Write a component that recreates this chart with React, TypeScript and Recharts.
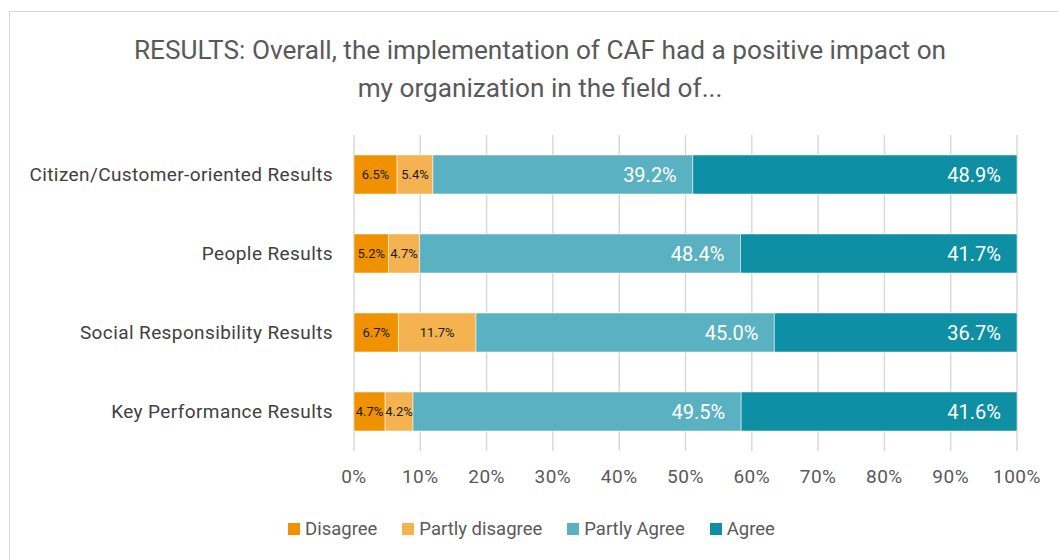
import React from "react";
import {
  BarChart, Bar, XAxis, YAxis, CartesianGrid, LabelList,
} from "recharts";

const categories = [
  "Citizen/Customer-oriented Results",
  "People Results",
  "Social Responsibility Results",
  "Key Performance Results",
];

const disagree        = [6.5, 5.2, 6.7, 4.7];
const partlyDisagree  = [5.4, 4.7, 11.7, 4.2];
const partlyAgree     = [39.2, 48.4, 45.0, 49.5];
const agree           = [48.9, 41.7, 36.7, 41.6];

const xTicks = [0, 10, 20, 30, 40, 50, 60, 70, 80, 90, 100];

const series = [
  { key: "disagree",       name: "Disagree",         color: "#F09200", small: true },
  { key: "partlyDisagree", name: "Partly disagree",  color: "#F4B350", small: true },
  { key: "partlyAgree",    name: "Partly Agree",     color: "#5AB1C2", small: false },
  { key: "agree",          name: "Agree",            color: "#0E8FA3", small: false },
];

const data = categories.map((c, i) => ({
  category:       c,
  disagree:       disagree[i],
  partlyDisagree: partlyDisagree[i],
  partlyAgree:    partlyAgree[i],
  agree:          agree[i],
}));

const FONT = "Roboto, 'Open Sans', sans-serif";
const pct = (v: any) => `${Number(v).toFixed(1)}%`;

export default function App() {
  return (
    <div style={{ position: "fixed", left: 0, top: 0, width: 1058, height: 560, background: "#fff", overflow: "hidden" }}>
      {/* chart border */}
      <div style={{ position: "absolute", left: 9, top: 11, width: 1100, height: 600, border: "1px solid #d9d9d9" }} />

      {/* Title */}
      <div style={{
        position: "absolute", left: 0, top: 31, width: 1080, textAlign: "center",
        fontFamily: FONT, fontSize: 26.2, lineHeight: "38px", color: "#595959",
      }}>
        RESULTS: Overall, the implementation of CAF had a positive impact on<br />
        my organization in the field of...
      </div>

      <div style={{ position: "absolute", left: 0, top: 0 }}>
        <BarChart
          width={1058}
          height={560}
          data={data}
          layout="vertical"
          margin={{ top: 135, right: 41, bottom: 69, left: 0 }}
          barSize={39}
        >
          <CartesianGrid horizontal={false} stroke="#d9d9d9" strokeWidth={1.5} />
          <XAxis
            type="number"
            domain={[0, 100]}
            ticks={xTicks}
            allowDataOverflow
            tickFormatter={(v) => `${v}%`}
            tick={{ fontSize: 19, fill: "#595959", fontFamily: FONT, letterSpacing: 0.5 }}
            axisLine={false}
            tickLine={false}
            tickMargin={13}
            height={40}
          />
          <YAxis
            type="category"
            dataKey="category"
            width={354}
            tick={{ fontSize: 19, fill: "#404040", fontFamily: FONT, letterSpacing: 0.4 }}
            axisLine={false}
            tickLine={false}
            tickMargin={15}
          />
          {series.map((s) => (
            <Bar
              key={s.key}
              dataKey={s.key}
              name={s.name}
              stackId="a"
              fill={s.color}
              stroke="#ffffff"
              strokeWidth={0.5}
              isAnimationActive={false}
            >
              {s.small ? (
                <LabelList
                  dataKey={s.key}
                  position="center"
                  formatter={pct}
                  style={{ fontSize: 13, fill: "#1a1a1a", fontFamily: FONT }}
                />
              ) : (
                <LabelList
                  dataKey={s.key}
                  position="insideRight"
                  offset={16}
                  formatter={pct}
                  style={{ fontSize: 20, fill: "#ffffff", fontFamily: FONT }}
                />
              )}
            </Bar>
          ))}
        </BarChart>
      </div>

      {/* Legend */}
      <div style={{
        position: "absolute", left: 288, top: 515, display: "flex", gap: 25,
        fontFamily: FONT, fontSize: 18.5, lineHeight: "28px", color: "#595959",
      }}>
        {series.map((s) => (
          <div key={s.key} style={{ display: "flex", alignItems: "center", gap: 5 }}>
            <span style={{ width: 12, height: 12, background: s.color, display: "inline-block" }} />
            <span>{s.name}</span>
          </div>
        ))}
      </div>
    </div>
  );
}
